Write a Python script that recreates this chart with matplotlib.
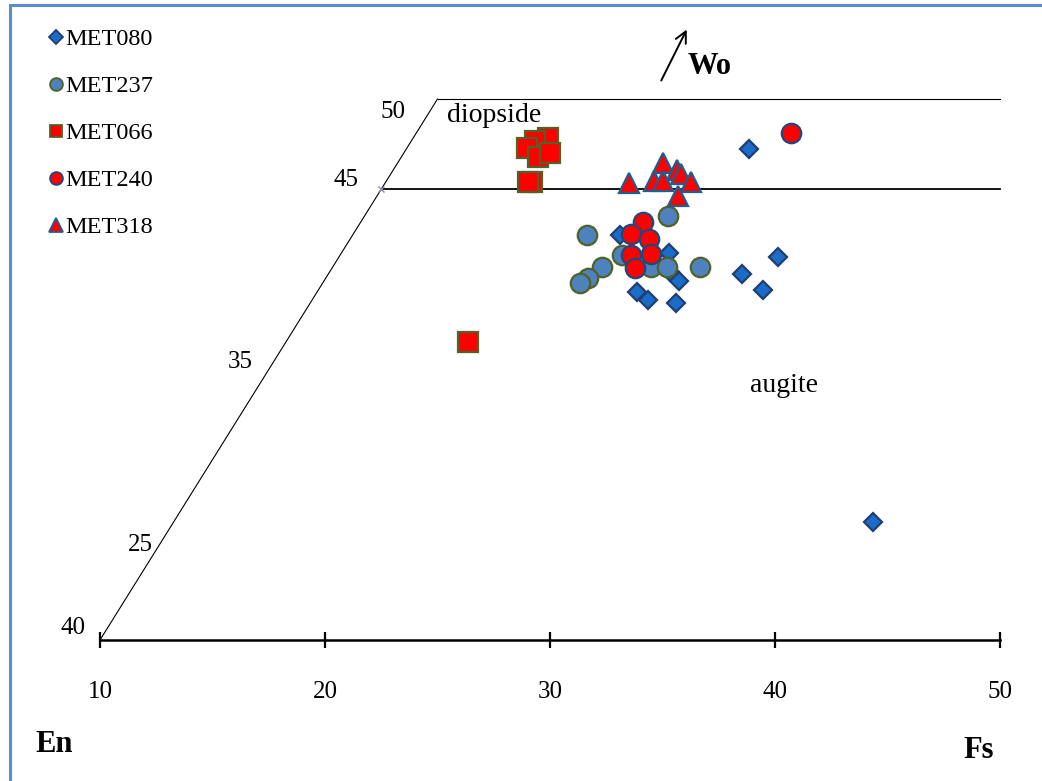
import matplotlib
matplotlib.use("Agg")
import matplotlib.pyplot as plt
from matplotlib.patches import Rectangle
from matplotlib.lines import Line2D

plt.rcParams['font.family'] = ['Liberation Serif', 'DejaVu Serif']

# ---- data (x = Fs axis value, y = Wo value) ----
met080_x = [38.84, 44.36, 40.13, 38.53, 39.47, 35.29, 35.33, 35.73, 35.60, 34.36, 33.87, 33.11]
met080_y = [47.23, 26.54, 41.24, 40.30, 39.41, 41.46, 40.41, 39.91, 38.69, 38.85, 39.30, 42.46]
met237_x = [31.64, 35.24, 33.20, 32.31, 31.69, 31.33, 34.49, 35.20, 36.67]
met237_y = [42.46, 43.51, 41.35, 40.68, 40.07, 39.80, 40.68, 40.68, 40.68]
met066_x = [29.91, 29.33, 28.98, 29.47, 30.00, 29.20, 29.02, 26.36]
met066_y = [47.84, 47.67, 47.28, 46.78, 47.01, 45.40, 45.40, 36.53]
met240_x = [40.71, 34.13, 33.60, 34.40, 33.60, 34.49, 33.78]
met240_y = [48.11, 43.18, 42.51, 42.24, 41.35, 41.40, 40.63]
met318_x = [33.51, 35.02, 35.64, 35.82, 34.62, 35.02, 36.27, 35.69]
met318_y = [45.34, 46.45, 46.06, 45.84, 45.45, 45.45, 45.40, 44.62]

x_ticks = [10, 20, 30, 40, 50]
diag_labels = ["40", "25", "35", "45", "50"]

W, H = 1042, 781
fig = plt.figure(figsize=(W / 100, H / 100), dpi=100)
fig.patch.set_facecolor('white')

def fx(px):
    return px / W

def fy(py):
    return 1 - py / H

ax = fig.add_axes([fx(100), fy(640), fx(1000) - fx(100), fy(99) - fy(640)])
ax.set_xlim(10, 50)
ax.set_ylim(20, 50)
for s in ['left', 'right', 'top']:
    ax.spines[s].set_visible(False)
ax.spines['bottom'].set_linewidth(1.8)
ax.set_yticks([])
ax.set_xticks(x_ticks)
ax.tick_params(axis='x', direction='inout', length=11, width=1.6, pad=24, labelsize=18)

# field boundaries
ax.plot([10, 25], [20, 50], color='black', lw=0.8, clip_on=False)
ax.plot([25, 50], [50, 50], color='black', lw=0.8, clip_on=False)
ax.plot([22.5, 50], [45, 45], color='black', lw=1.3, clip_on=False)
ax.plot([22.5], [45], marker='x', color='#8a8aa8', ms=4, mew=1, clip_on=False)

series = [
    ("MET080", met080_x, met080_y, 'D', 9.5, '#1a6cc8', '#1f3f70'),
    ("MET237", met237_x, met237_y, 'o', 14, '#4f81bd', '#4f6228'),
    ("MET066", met066_x, met066_y, 's', 15, '#ff0000', '#4f6228'),
    ("MET240", met240_x, met240_y, 'o', 14, '#ff0000', '#1f497d'),
    ("MET318", met318_x, met318_y, '^', 15, '#ff0000', '#1f5f8f'),
]
handles = []
for name, xs, ys, mk, ms, fc, ec in series:
    ax.plot(xs, ys, linestyle='none', marker=mk, ms=ms, mfc=fc, mec=ec, mew=1.6,
            clip_on=False, zorder=3)
    hms = {'D': 7.2, 'o': 9.2, 's': 9.0, '^': 9.5}[mk]
    handles.append(Line2D([], [], linestyle='none', marker=mk, ms=hms, mfc=fc, mec=ec,
                          mew=1.3, label=name))

fig.legend(handles=handles, loc='upper left', bbox_to_anchor=(fx(47), fy(28)),
           frameon=False, fontsize=17.5, handlelength=0.7, handletextpad=0.05,
           labelspacing=1.03, borderaxespad=0, borderpad=0)

# annotations
fig.text(fx(447), fy(115), "diopside", fontsize=20, ha='left', va='center')
fig.text(fx(750), fy(385), "augite", fontsize=20, ha='left', va='center')
fig.text(fx(688), fy(67), "Wo", fontsize=22, fontweight='bold', ha='left', va='center')
fig.text(fx(35), fy(745), "En", fontsize=22, fontweight='bold', ha='left', va='center')
fig.text(fx(963), fy(750), "Fs", fontsize=22, fontweight='bold', ha='left', va='center')
ax.annotate('', xy=(fx(688), fy(27)), xytext=(fx(660), fy(83)),
            xycoords='figure fraction', textcoords='figure fraction',
            arrowprops=dict(arrowstyle='->', lw=1.4, color='black', mutation_scale=20))

diag_pos = [(73, 628), (140, 545), (240, 362), (346, 180), (393, 112)]
for lab, (px, py) in zip(diag_labels, diag_pos):
    fig.text(fx(px), fy(py), lab, fontsize=18, ha='center', va='center')

# outer frame
fig.add_artist(Rectangle((fx(10), fy(800)), fx(1060) - fx(10), fy(5) - fy(800),
                         transform=fig.transFigure, fill=False,
                         edgecolor='#5b8bd0', lw=2.2, clip_on=False))

fig.savefig('out.png', dpi=100, facecolor='white')
